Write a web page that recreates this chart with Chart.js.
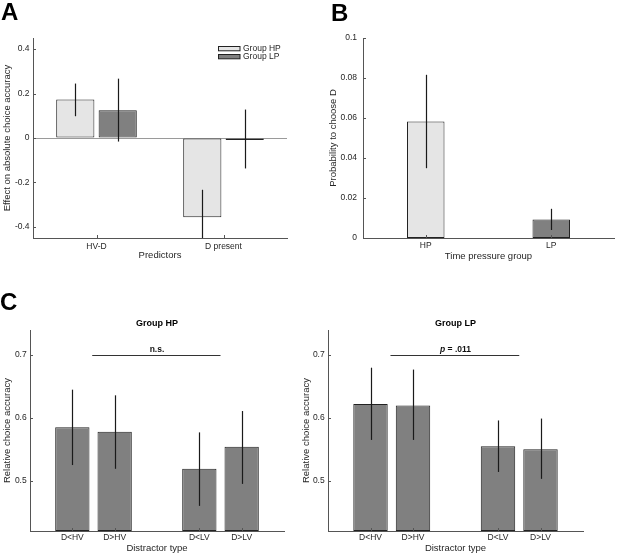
<!DOCTYPE html>
<html><head><meta charset="utf-8">
<script src="https://cdn.jsdelivr.net/npm/chart.js@4.4.1/dist/chart.umd.min.js"></script>
<style>
html,body{margin:0;padding:0;background:#fff;}
#wrap{position:relative;width:617px;height:553px;overflow:hidden;background:#fff;}
canvas{position:absolute;}
.letter{position:absolute;font:bold 24px/24px "Liberation Sans",Arial,sans-serif;color:#000;}
</style></head><body>
<div id="wrap">
<canvas id="chartA"></canvas>
<canvas id="chartB"></canvas>
<canvas id="chartCHP"></canvas>
<canvas id="chartCLP"></canvas>
<div class="letter" style="left:1px;top:0px">A</div>
<div class="letter" style="left:331px;top:1px">B</div>
<div class="letter" style="left:0px;top:290px">C</div>
</div>
<script>
// ---------------- DATA ----------------
const aCategories = ['HV-D', 'D present'];
const aSeriesNames = ['Group HP', 'Group LP'];
const aHP = [0.173, -0.357];
const aHPLow = [0.098, -0.48];
const aHPHigh = [0.245, -0.233];
const aLP = [0.125, -0.003];
const aLPLow = [-0.016, -0.137];
const aLPHigh = [0.267, 0.128];
const aTicks = [-0.4, -0.2, 0, 0.2, 0.4];
const aRange = [-0.45, 0.45];

const bCategories = ['HP', 'LP'];
const bValues = [0.0583, 0.0093];
const bLow = [0.0349, 0.0040];
const bHigh = [0.0816, 0.0146];
const bTicks = [0, 0.02, 0.04, 0.06, 0.08, 0.1];
const bRange = [0, 0.1];

const cCategories = ['D<HV', 'D>HV', 'D<LV', 'D>LV'];
const cHP = [0.585, 0.578, 0.519, 0.554];
const cHPLow = [0.525, 0.519, 0.460, 0.495];
const cHPHigh = [0.645, 0.636, 0.577, 0.611];
const cLP = [0.622, 0.620, 0.555, 0.550];
const cLPLow = [0.565, 0.565, 0.514, 0.503];
const cLPHigh = [0.680, 0.677, 0.596, 0.599];
const cTicks = [0.5, 0.6, 0.7];
const cRange = [0.42, 0.74];
const cBracketValue = 0.7;
const cHPTest = [{text: 'n.s.', italic: false}];
const cLPTest = [{text: 'p', italic: true}, {text: ' = .011', italic: false}];

// ---------------- STYLE ----------------
const FONT = '"Liberation Sans", Arial, Helvetica, sans-serif';
const TXT = '#262626';
const AXIS = '#555555';
const EDGE = '#222222';
const LIGHT = '#e5e5e5';
const DARK = '#808080';
const TICK_SIZE = 8.5;
const TITLE_SIZE = 9.5;
Chart.defaults.font.family = FONT;
Chart.defaults.color = TXT;

// ---------------- PLUGINS ----------------
const errorBars = {
  id: 'errorBars',
  afterDatasetsDraw(chart) {
    const {ctx, chartArea} = chart;
    const y = chart.scales.y;
    ctx.save();
    ctx.beginPath();
    ctx.rect(chartArea.left, chartArea.top, chartArea.width, chartArea.height);
    ctx.clip();
    ctx.strokeStyle = '#1a1a1a';
    ctx.lineWidth = 1.2;
    chart.data.datasets.forEach((ds, di) => {
      if (!ds.errLow) return;
      const meta = chart.getDatasetMeta(di);
      meta.data.forEach((el, i) => {
        if (ds.data[i] == null || ds.errLow[i] == null) return;
        const px = Math.round(el.x) + 0.5;
        ctx.beginPath();
        ctx.moveTo(px, y.getPixelForValue(ds.errLow[i]));
        ctx.lineTo(px, y.getPixelForValue(ds.errHigh[i]));
        ctx.stroke();
      });
    });
    ctx.restore();
  }
};

const inwardTicks = {
  id: 'inwardTicks',
  afterDraw(chart) {
    const {ctx, chartArea} = chart;
    const x = chart.scales.x, y = chart.scales.y;
    ctx.save();
    ctx.strokeStyle = AXIS;
    ctx.lineWidth = 1;
    y.ticks.forEach((t, i) => {
      const py = Math.round(y.getPixelForTick(i)) + 0.5;
      ctx.beginPath();
      ctx.moveTo(chartArea.left, py);
      ctx.lineTo(chartArea.left + 3, py);
      ctx.stroke();
    });
    x.ticks.forEach((t, i) => {
      if (!t.label) return;
      const px = Math.round(x.getPixelForTick(i)) + 0.5;
      ctx.beginPath();
      ctx.moveTo(px, chartArea.bottom);
      ctx.lineTo(px, chartArea.bottom - 3);
      ctx.stroke();
    });
    ctx.restore();
  }
};

const boxLegend = {
  id: 'boxLegend',
  afterDraw(chart, args, o) {
    if (!o || !o.show) return;
    const {ctx, chartArea} = chart;
    ctx.save();
    chart.data.datasets.forEach((ds, i) => {
      const x0 = Math.round(chartArea.right + o.dx) + 0.5;
      const y0 = Math.round(chartArea.top + o.dy + i * o.row) + 0.5;
      ctx.fillStyle = ds.backgroundColor;
      ctx.fillRect(x0, y0, o.w, o.h);
      ctx.strokeStyle = EDGE;
      ctx.lineWidth = 1;
      ctx.strokeRect(x0, y0, o.w, o.h);
      ctx.fillStyle = TXT;
      ctx.font = o.size + 'px ' + FONT;
      ctx.textBaseline = 'middle';
      ctx.textAlign = 'left';
      ctx.fillText(ds.label, x0 + o.w + o.gap, y0 + o.h / 2 + 0.5);
    });
    ctx.restore();
  }
};

const bracket = {
  id: 'bracket',
  afterDraw(chart, args, o) {
    if (!o || !o.parts) return;
    const {ctx} = chart;
    const x = chart.scales.x, y = chart.scales.y;
    const x1 = x.getPixelForValue(o.from), x2 = x.getPixelForValue(o.to);
    const py = Math.round(y.getPixelForValue(o.value)) + 0.5;
    ctx.save();
    ctx.strokeStyle = '#333';
    ctx.lineWidth = 1;
    ctx.beginPath();
    ctx.moveTo(x1, py);
    ctx.lineTo(x2, py);
    ctx.stroke();
    const fontFor = p => (p.italic ? 'italic ' : '') + 'bold ' + o.size + 'px ' + FONT;
    let total = 0;
    o.parts.forEach(p => { ctx.font = fontFor(p); total += ctx.measureText(p.text).width; });
    let cx = x.getPixelForValue(o.textAt) - total / 2;
    ctx.fillStyle = '#111';
    ctx.textBaseline = 'alphabetic';
    ctx.textAlign = 'left';
    o.parts.forEach(p => {
      ctx.font = fontFor(p);
      ctx.fillText(p.text, cx, py - o.lift);
      cx += ctx.measureText(p.text).width;
    });
    ctx.restore();
  }
};

// ---------------- LAYOUT HELPERS ----------------
function placeCanvas(id, box) {
  const c = document.getElementById(id);
  c.width = box[2]; c.height = box[3];
  c.style.left = box[0] + 'px'; c.style.top = box[1] + 'px';
  c.style.width = box[2] + 'px'; c.style.height = box[3] + 'px';
  return c;
}

function buildScales(L, yo, xo) {
  const [bx, by, bw, bh] = L.box, [l, t, r, b] = L.area;
  const titleLH = TITLE_SIZE * 1.2;
  return {
    x: {
      type: 'category',
      offset: xo.offset,
      grid: {display: false, drawTicks: false},
      border: {display: true, color: AXIS, width: 1},
      ticks: {font: {size: TICK_SIZE}, color: TXT, padding: L.xTickY - b - TICK_SIZE * 1.2 / 2,
              maxRotation: 0, minRotation: 0, autoSkip: false},
      title: {display: true, text: xo.title, font: {size: TITLE_SIZE}, color: TXT,
              padding: {top: 0, bottom: Math.max(0, (by + bh) - L.xTitleY - titleLH / 2)}},
      afterFit: s => { s.height = (by + bh) - b; s.paddingLeft = 0; s.paddingRight = 0; }
    },
    y: {
      type: 'linear',
      min: yo.range[0], max: yo.range[1],
      grid: {display: !!yo.zeroLine, drawTicks: false, lineWidth: 1,
             color: c => (c.tick && c.tick.value === 0) ? '#9a9a9a' : 'rgba(0,0,0,0)'},
      border: {display: true, color: AXIS, width: 1},
      ticks: {font: {size: TICK_SIZE}, color: TXT, padding: yo.gap,
              callback: v => String(+Number(v).toFixed(4))},
      afterBuildTicks: s => { s.ticks = yo.ticks.map(v => ({value: v})); },
      title: {display: true, text: yo.title, font: {size: TITLE_SIZE}, color: TXT,
              padding: {top: L.yTitleX - bx - titleLH / 2, bottom: 0}},
      afterFit: s => { s.width = l - bx; s.paddingTop = 0; s.paddingBottom = 0; }
    }
  };
}

function baseOptions(L, scales, extraTop, plugins) {
  const [bx, by, bw, bh] = L.box, [l, t, r, b] = L.area;
  return {
    responsive: false,
    animation: false,
    devicePixelRatio: window.devicePixelRatio || 1,
    layout: {padding: {left: 0, bottom: 0, top: t - by - extraTop, right: (bx + bw) - r}},
    scales,
    plugins: Object.assign({legend: {display: false}, tooltip: {enabled: false}}, plugins)
  };
}

// ---------------- PANEL A ----------------
const LA = {box: [0, 0, 300, 262], area: [33, 38, 287, 238], xTickY: 246.7, xTitleY: 255.5, yTitleX: 7};
placeCanvas('chartA', LA.box);
new Chart(document.getElementById('chartA'), {
  type: 'bar',
  data: {
    labels: aCategories,
    datasets: [
      {label: aSeriesNames[0], data: aHP, errLow: aHPLow, errHigh: aHPHigh,
       backgroundColor: LIGHT, borderColor: EDGE, borderWidth: 1, borderSkipped: false,
       categoryPercentage: 0.668, barPercentage: 0.9},
      {label: aSeriesNames[1], data: aLP, errLow: aLPLow, errHigh: aLPHigh,
       backgroundColor: DARK, borderColor: EDGE, borderWidth: 1, borderSkipped: false,
       minBarLength: 2,
       categoryPercentage: 0.668, barPercentage: 0.9}
    ]
  },
  options: baseOptions(LA,
    buildScales(LA, {range: aRange, ticks: aTicks, gap: 3.4, zeroLine: true, title: 'Effect on absolute choice accuracy'},
                {offset: true, title: 'Predictors'}),
    0,
    {boxLegend: {show: true, dx: -68.7, dy: 8.3, w: 21.5, h: 4.3, row: 7.7, gap: 3, size: 8.5}}),
  plugins: [errorBars, inwardTicks, boxLegend]
});

// ---------------- PANEL B ----------------
const LB = {box: [318, 0, 299, 262], area: [363, 38, 614, 238], xTickY: 245.7, xTitleY: 256, yTitleX: 333.3};
placeCanvas('chartB', LB.box);
new Chart(document.getElementById('chartB'), {
  type: 'bar',
  data: {
    labels: bCategories,
    datasets: [
      {label: 'Probability to choose D', data: bValues, errLow: bLow, errHigh: bHigh,
       backgroundColor: [LIGHT, DARK], borderColor: EDGE, borderWidth: 1, borderSkipped: false,
       categoryPercentage: 0.332, barPercentage: 0.9}
    ]
  },
  options: baseOptions(LB,
    buildScales(LB, {range: bRange, ticks: bTicks, gap: 6, zeroLine: false, title: 'Probability to choose D'},
                {offset: true, title: 'Time pressure group'}),
    0, {}),
  plugins: [errorBars, inwardTicks]
});

// ---------------- PANEL C ----------------
const cSlots = [1, 2, 4, 5];     // MATLAB x positions, xlim [0, 6]
const cSlotCount = 7;
function padSlots(arr, fill) {
  const out = new Array(cSlotCount).fill(fill);
  cSlots.forEach((s, i) => { out[s] = arr[i]; });
  return out;
}
const cLabels = padSlots(cCategories, '');

function panelC(id, L, title, vals, lo, hi, test) {
  placeCanvas(id, L.box);
  const titleLH = 9 * 1.2;
  const titleTop = L.titleY - titleLH / 2;
  const titleBottomPad = L.area[1] - titleTop - titleLH;
  const opts = baseOptions(L,
    buildScales(L, {range: cRange, ticks: cTicks, gap: 3.3, zeroLine: false, title: 'Relative choice accuracy'},
                {offset: false, title: 'Distractor type'}),
    titleLH + titleBottomPad,
    {
      title: {display: true, text: title, fullSize: false, color: '#000',
              font: {size: 9, weight: 'bold'}, padding: {top: 0, bottom: titleBottomPad}},
      bracket: {from: 1.47, to: 4.5, value: cBracketValue, textAt: 3, lift: 3.2, size: 8.5, parts: test}
    });
  new Chart(document.getElementById(id), {
    type: 'bar',
    data: {
      labels: cLabels,
      datasets: [{label: title, data: padSlots(vals, null), errLow: padSlots(lo, null), errHigh: padSlots(hi, null),
                  backgroundColor: DARK, borderColor: EDGE, borderWidth: 1, borderSkipped: false,
                  base: cRange[0], categoryPercentage: 0.9, barPercentage: 0.9}]
    },
    options: opts,
    plugins: [errorBars, inwardTicks, bracket]
  });
}

panelC('chartCHP', {box: [0, 280, 300, 276], area: [30, 330, 284, 531], xTickY: 537.5, xTitleY: 548, yTitleX: 7, titleY: 323.3},
       'Group HP', cHP, cHPLow, cHPHigh, cHPTest);
panelC('chartCLP', {box: [300, 280, 317, 276], area: [328, 330, 583, 531], xTickY: 537.5, xTitleY: 548, yTitleX: 306.5, titleY: 323.3},
       'Group LP', cLP, cLPLow, cLPHigh, cLPTest);
</script>
</body></html>
